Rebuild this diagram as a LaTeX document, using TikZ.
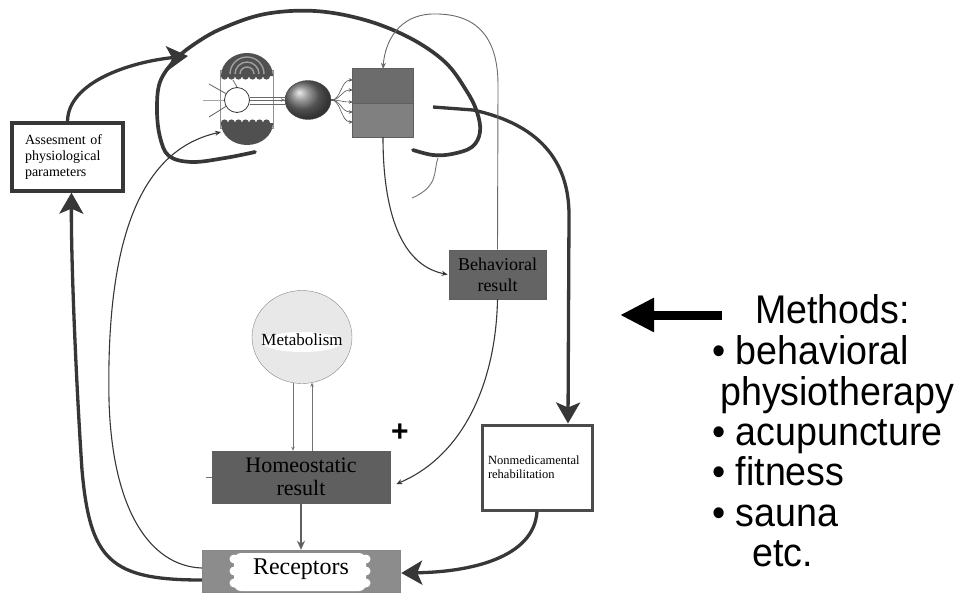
\documentclass[tikz,border=0pt]{standalone}
\usepackage{fontspec}
\setmainfont{Liberation Serif}
\newfontfamily\methodsfont{Liberation Sans}
\usetikzlibrary{arrows.meta,shapes.geometric,calc}
\definecolor{ink}{RGB}{55,55,55}
\definecolor{boxdark}{RGB}{100,100,100}
\definecolor{cortextop}{RGB}{108,108,108}
\definecolor{cortexbot}{RGB}{128,128,128}
\definecolor{recgray}{RGB}{140,140,140}
\definecolor{metabfill}{RGB}{232,232,232}
\definecolor{bowl}{RGB}{80,80,80}
\begin{document}
\begin{tikzpicture}[x=1pt,y=-1pt,
  thickflow/.style={draw=ink,line width=3.3pt},
  thinflow/.style={draw=ink,line width=1.1pt},
  bigtip/.style={-{Stealth[length=21pt,width=24pt,inset=5pt]}},
  smalltip/.style={-{Stealth[length=6pt,width=5pt]}},
  tinytip/.style={-{Stealth[length=4pt,width=3.5pt]}},
  darkbox/.style={draw=ink!80,line width=0.6pt,fill=boxdark,inner sep=0pt,align=center},
  whitebox/.style={draw=ink,line width=3.3pt,fill=white,inner sep=0pt,align=left},
  methodline/.style={anchor=base west,inner sep=0pt,font=\methodsfont\fontsize{40}{44}\selectfont},
]
\useasboundingbox (0,0) rectangle (963,592);

% ---------- boxes ----------
\node[whitebox,minimum width=111pt,minimum height=68pt,text width=85pt,
      font=\fontsize{14}{16}\selectfont] (assess) at (67.5,157)
      {Assesment of\\physiological\\parameters};
\node[darkbox,minimum width=97pt,minimum height=49pt,
      font=\fontsize{18}{21}\selectfont] (beh) at (497.5,274.5) {Behavioral\\result};
\node[darkbox,minimum width=178pt,minimum height=52pt,fill=boxdark!95!black,
      font=\fontsize{22}{23}\selectfont] (homeo) at (301,477) {Homeostatic\\result};
\node[whitebox,minimum width=110pt,minimum height=85pt,text width=98pt,
      line width=3pt,draw=ink!90,font=\fontsize{12.5}{14}\selectfont] (nonmed) at (537,467.5)
      {Nonmedicamental\\rehabilitation};
\draw[ink!70,line width=0.6pt] (homeo.west) -- ++(-6,0);

% receptors block with a white cloud behind the word
\node[draw=ink!60,fill=recgray,minimum width=198pt,minimum height=42pt,inner sep=0pt] (recep) at (301,571) {};
\fill[white,rounded corners=7pt] (234,553) rectangle (366,591);
\foreach \yy in {559,571,583}{
  \fill[white] (234,\yy) circle (4.5pt);
  \fill[white] (366,\yy) circle (4.5pt);
}
\node[font=\fontsize{24}{24}\selectfont,inner sep=0pt] (reclabel) at (301,569) {Receptors};

% metabolism
\node[ellipse,draw=ink!60,fill=metabfill,minimum width=100pt,minimum height=93pt,inner sep=0pt] (metab) at (302,337) {};
\fill[white] (302,342) ellipse[x radius=40,y radius=10];
\node[font=\fontsize{17}{17}\selectfont,inner sep=0pt] (metablabel) at (302,340) {Metabolism};

\node[font=\methodsfont\bfseries\fontsize{30}{30}\selectfont,inner sep=0pt] (plus) at (400,433) {+};

% ---------- cortex block ----------
\path node[minimum width=60pt,minimum height=68pt,inner sep=0pt] (cortex) at (383,103) {};
\fill[cortextop] (cortex.north west) rectangle (cortex.east);
\fill[cortexbot] (cortex.west) rectangle (cortex.south east);
\draw[ink!80,line width=0.7pt] (cortex.north west) rectangle (cortex.south east);
\draw[ink!80,line width=0.7pt] (cortex.west) -- (cortex.east);

% ---------- receptor cell with its two cups ----------
\draw[ink!55,line width=0.5pt] (220,70) rectangle (273,128);
\fill[bowl] (221,76) arc[start angle=180,end angle=360,x radius=26,y radius=23] -- cycle;
\foreach \xx in {224.5,231.5,...,270}{\fill[bowl] (\xx,76) circle (3.6pt);}
\foreach \rr in {7,12,17}{
  \draw[gray!75,line width=1.4pt] ($(247,74)+(-\rr,0)$) arc[start angle=180,end angle=360,radius=\rr];
}
\fill[bowl] (221,123) arc[start angle=180,end angle=0,x radius=26,y radius=22] -- cycle;
\foreach \xx in {224.5,231.5,...,270}{\fill[bowl] (\xx,123) circle (3.6pt);}

\node[circle,draw=ink,line width=0.8pt,fill=white,minimum size=25pt,inner sep=0pt] (cell) at (237,100) {};
\draw[ink!80,line width=0.7pt] (233,80) -- (cell.north);
\draw[ink!80,line width=0.8pt] (209,84) -- (cell.150);
\draw[ink!45,line width=0.8pt] (203,100) -- (cell.west);
\draw[ink!80,line width=0.8pt] (209,117) -- (cell.210);

% neuron body
\node[ellipse,minimum width=46pt,minimum height=39pt,inner sep=0pt,draw=ink!90,
      ball color=black!55] (sphere) at (308,100) {};
\foreach \dy in {-3,0,4}{
  \draw[ink!75,line width=0.6pt] ($(cell.east)+(0,\dy)$) -- ($(sphere.west)+(0,\dy)$);
}
\draw[ink!75,tinytip,line width=0.6pt] ($(sphere.west)+(-8,0)$) -- (sphere.west);
\foreach \dy in {-23,-13,-1,9,19}{
  \draw[ink!85,line width=0.6pt,tinytip] (sphere.east) .. controls ($(sphere.east)+(10,0)$) and ($(cortex.west)+(-12,\dy)$) .. ($(cortex.west)+(0,\dy)$);
}

% ---------- outline of the brain ----------
\draw[ink,line width=3.7pt,line cap=round] plot[smooth,tension=0.6] coordinates {
  (255,152) (225,158) (192,162) (169,156) (160,137) (157,110) (160,82) (175,60)
  (196,43) (223,28) (265,14) (315,11) (365,20) (410,38) (445,62) (466,90)
  (477,112) (480,132) (472,147) (452,154) (433,155) (413,150)};
\draw[ink!70,line width=0.9pt] (438,158) .. controls (433,170) and (440,186) .. (412,198);

% ---------- connectors ----------
\coordinate (brainin) at (188,56);
\coordinate (bowlin) at (221,132);
\coordinate (hair) at (433,107);

\draw[thickflow,bigtip] (assess.north) .. controls (68,82) and (130,62) .. (brainin);
\draw[thickflow,bigtip] ($(recep.west)+(0,9)$) .. controls (110,580) and (90,560) .. (82,470)
      .. controls (76,380) and (71,260) .. ($(assess.south)+(4,0)$);
\draw[thinflow,smalltip] ($(recep.west)+(0,-3)$) .. controls (150,566) and (112,510) .. (109,400)
      .. controls (106,240) and (140,150) .. (bowlin);
\draw[thickflow,bigtip] (hair) -- (473,110) .. controls (538,124) and (569,160) .. (569,215)
      -- ($(nonmed.north)+(31,0)$);
\draw[ink!75,line width=0.9pt,smalltip] (beh.north) -- (498,85) .. controls (498,30) and (470,13) .. (432,14)
      .. controls (400,15) and (385,40) .. (cortex.north);
\draw[thinflow,smalltip] (cortex.south) .. controls (383,210) and (400,265) .. ($(beh.west)+(-1,0)$);
\draw[thinflow,smalltip] (beh.south) .. controls (496,380) and (465,455) .. ($(homeo.east)+(6,7)$);
\draw[thickflow,bigtip] (nonmed.south) .. controls (534,558) and (470,572) .. ($(recep.east)+(1,2)$);
\draw[ink!80,line width=1.6pt,-{Stealth[length=9pt,width=8pt]}] (homeo.south) -- (recep.north);
\draw[ink!70,line width=0.6pt,tinytip] ($(metab.south)+(-9,-1)$) -- ($(homeo.north)+(-8,0)$);
\draw[ink!70,line width=0.6pt,tinytip] ($(homeo.north)+(11,0)$) -- ($(metab.south)+(10,-1)$);

% ---------- methods list ----------
\node[methodline] (m1) at (755,323) {\scalebox{0.94}[1]{Methods:}};
\node[methodline] (m2) at (712,364) {\scalebox{0.94}[1]{• behavioral}};
\node[methodline] (m3) at (720,405) {\scalebox{0.94}[1]{physiotherapy}};
\node[methodline] (m4) at (712,445) {\scalebox{0.94}[1]{• acupuncture}};
\node[methodline] (m5) at (712,485) {\scalebox{0.94}[1]{• fitness}};
\node[methodline] (m6) at (712,526) {\scalebox{0.94}[1]{• sauna}};
\node[methodline] (m7) at (752,566) {\scalebox{0.94}[1]{etc.}};
\coordinate (mtail) at (722,315);
\coordinate (mhead) at (620,315);
\draw[black,line width=9pt,-{Triangle[length=34pt,width=32pt]}] (mtail) -- (mhead);
\end{tikzpicture}
\end{document}
